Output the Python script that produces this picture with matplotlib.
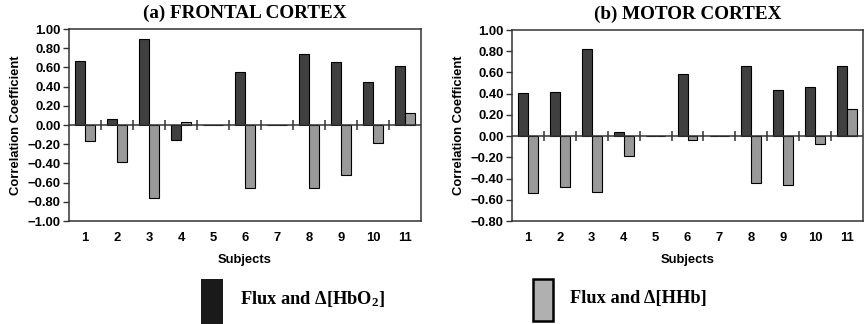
import matplotlib
matplotlib.use("Agg")
import matplotlib.pyplot as plt
from matplotlib.patches import Rectangle
import numpy as np

plt.rcParams['mathtext.fontset'] = 'custom'
plt.rcParams['mathtext.rm'] = 'Liberation Serif:bold'
plt.rcParams['mathtext.it'] = 'Liberation Serif:bold'
plt.rcParams['mathtext.bf'] = 'Liberation Serif:bold'

subjects = ['1', '2', '3', '4', '5', '6', '7', '8', '9', '10', '11']

frontal_hbo2 = [0.67, 0.06, 0.90, -0.16, 0.0, 0.55, 0.0, 0.74, 0.66, 0.45, 0.61]
frontal_hhb = [-0.17, -0.39, -0.76, 0.03, 0.0, -0.66, 0.0, -0.66, -0.52, -0.19, 0.12]

motor_hbo2 = [0.41, 0.42, 0.82, 0.04, 0.0, 0.59, 0.0, 0.66, 0.43, 0.46, 0.66]
motor_hhb = [-0.54, -0.48, -0.53, -0.19, 0.0, -0.04, 0.0, -0.44, -0.46, -0.07, 0.26]

titles = ['(a) FRONTAL CORTEX', '(b) MOTOR CORTEX']
ylims = [(-1.0, 1.0), (-0.8, 1.0)]
legend_labels = ['Flux and \u0394[HbO$_2$]', 'Flux and \u0394[HHb]']

DARK = '#404040'
LIGHT = '#999999'
SPINE = '#333333'
SANS = 'Liberation Sans'
SERIF = 'Liberation Serif'
SANS_SIZE = 9.4

fig = plt.figure(figsize=(8.65, 3.24), dpi=100)
W, H = 865.0, 324.0
boxes = [(69, 29, 421, 221), (512, 30, 863, 221)]


def draw_panel(ax, hbo2, hhb, title, ylim):
    x = np.arange(1, len(subjects) + 1)
    w = 0.31
    ax.bar(x - w / 2, hbo2, w, color=DARK, edgecolor='black', linewidth=0.8, zorder=3)
    ax.bar(x + w / 2, hhb, w, color=LIGHT, edgecolor='black', linewidth=0.8, zorder=3)
    ax.set_xlim(0.5, len(subjects) + 0.5)
    ax.set_ylim(*ylim)
    ax.set_yticks(np.arange(ylim[0], ylim[1] + 0.001, 0.2))
    ax.yaxis.set_major_formatter(plt.FuncFormatter(
        lambda v, p: ('%.2f' % (0.0 if abs(v) < 1e-9 else v)).replace('-', '\u2212')))
    ax.set_xticks(x)
    ax.set_xticklabels(subjects)
    ax.tick_params(axis='x', length=0, pad=8)
    ax.tick_params(axis='y', length=4, width=1, color=SPINE, pad=2, direction='out')
    for lab in ax.get_xticklabels() + ax.get_yticklabels():
        lab.set_fontfamily(SANS)
        lab.set_fontweight('bold')
        lab.set_fontsize(SANS_SIZE)
    for s in ax.spines.values():
        s.set_color(SPINE)
        s.set_linewidth(1.1)
    # category axis at zero with boundary tick marks crossing it
    ax.axhline(0, color=SPINE, linewidth=1.1, zorder=4)
    bounds = np.arange(1.5, len(subjects), 1.0)
    ax.plot(bounds, np.zeros_like(bounds), linestyle='none', marker='|',
            markersize=7, markeredgewidth=1.1, color=SPINE, zorder=4)
    ax.set_title(title, fontfamily=SERIF, fontweight='bold', fontsize=13.8, pad=8)
    ax.set_xlabel('Subjects', fontfamily=SANS, fontweight='bold', fontsize=SANS_SIZE,
                  labelpad=7)
    ax.set_ylabel('Correlation Coefficient', fontfamily=SANS, fontweight='bold',
                  fontsize=SANS_SIZE, labelpad=4)


series = [(frontal_hbo2, frontal_hhb), (motor_hbo2, motor_hhb)]
for (x0, y0, x1, y1), (a, b), t, yl in zip(boxes, series, titles, ylims):
    ax = fig.add_axes([x0 / W, 1 - y1 / H, (x1 - x0) / W, (y1 - y0) / H])
    draw_panel(ax, a, b, t, yl)

# legend swatches and labels
fig.patches.append(Rectangle((201 / W, 1 - 324 / H), 22 / W, 45 / H,
                             transform=fig.transFigure, facecolor='#1a1a1a',
                             edgecolor='none'))
fig.patches.append(Rectangle((533 / W, 1 - 321 / H), 20 / W, 42 / H,
                             transform=fig.transFigure, facecolor='#b0b0b0',
                             edgecolor='black', linewidth=1.8))
fig.text(240 / W, 1 - 299 / H, legend_labels[0], fontfamily=SERIF, fontweight='bold',
         fontsize=13.2, va='center', ha='left')
fig.text(570 / W, 1 - 299 / H, legend_labels[1], fontfamily=SERIF, fontweight='bold',
         fontsize=13.2, va='center', ha='left')

fig.savefig('out.png', dpi=100)
